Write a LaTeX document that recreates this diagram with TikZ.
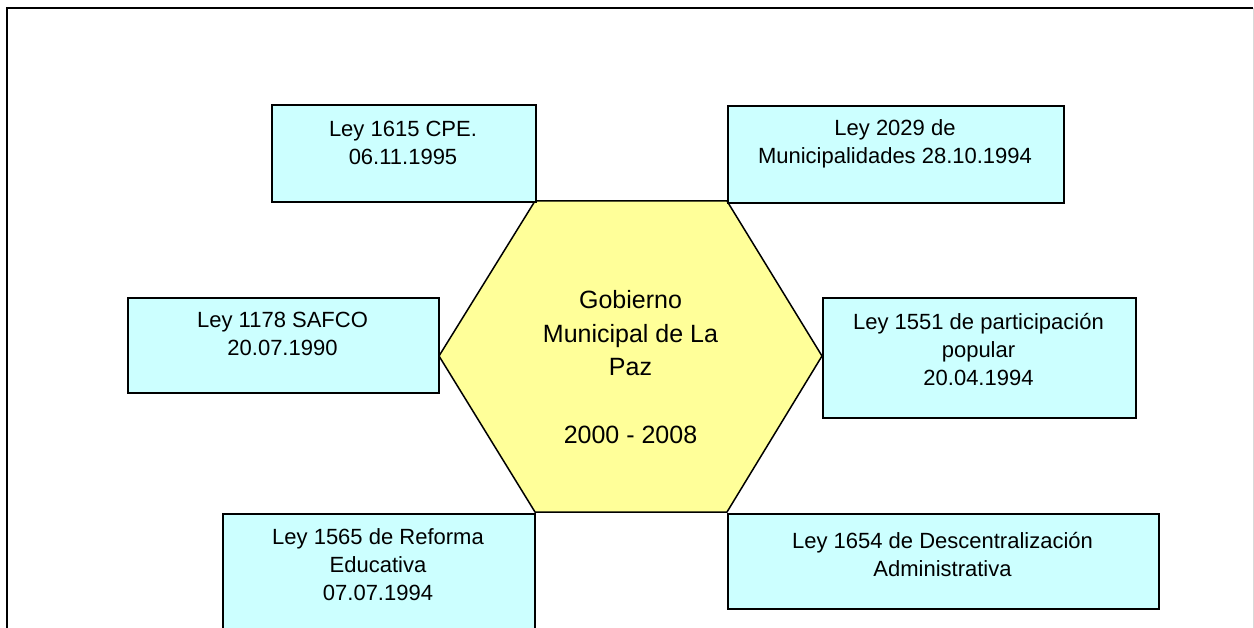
\documentclass[tikz,border=0pt]{standalone}
\usepackage{fontspec}
\setmainfont{Liberation Sans}
\definecolor{boxfill}{HTML}{CCFFFF}
\definecolor{hexfill}{HTML}{FFFF99}
\begin{document}
\begin{tikzpicture}[x=1pt,y=-1pt,
  lawbox/.style={draw=black, line width=1.8pt, fill=boxfill, inner sep=0pt, anchor=north west},
  lawtext/.style={anchor=north, inner sep=0pt, align=center, font=\fontsize{22}{28}\selectfont},
  hexshape/.style={draw=black, line width=1.5pt, fill=hexfill, line join=miter},
  hextext/.style={anchor=north, inner sep=0pt, align=center, font=\fontsize{25}{33.7}\selectfont},
  frame/.style={draw=black, line width=2pt}]
\useasboundingbox (0,0) rectangle (1254,628);
\clip (0,0) rectangle (1254,628);
\fill[white] (0,0) rectangle (1254,628);
% outer frame
\draw[frame] (6.5,640) -- (6.5,8) -- (1253,8);
\draw[black!15, line width=1pt] (1253,8) -- (1253,640);
% hexagon
\coordinate (h1) at (535,201);
\coordinate (h2) at (727,201);
\coordinate (h3) at (822,356);
\coordinate (h4) at (727,512);
\coordinate (h5) at (535,512);
\coordinate (h6) at (439,356);
\draw[hexshape] (h1) -- (h2) -- (h3) -- (h4) -- (h5) -- (h6) -- cycle;
\node[hextext] (hext) at (630.5,290) {Gobierno\\Municipal de La\\Paz\\[33.7pt]2000 - 2008};
% boxes
\node[lawbox, minimum width=264pt, minimum height=97pt] (b1) at (271,104) {};
\node[lawbox, minimum width=336pt, minimum height=97pt] (b2) at (727,105) {};
\node[lawbox, minimum width=311pt, minimum height=95pt] (b3) at (127,297) {};
\node[lawbox, minimum width=313pt, minimum height=120pt] (b4) at (822,297) {};
\node[lawbox, minimum width=312pt, minimum height=140pt] (b5) at (222,513) {};
\node[lawbox, minimum width=431pt, minimum height=95pt] (b6) at (727,513) {};
% texts
\node[lawtext] (t1) at (403,121) {Ley 1615 CPE.\\06.11.1995};
\node[lawtext] (t2) at (895,119) {Ley 2029 de\\Municipalidades 28.10.1994};
\node[lawtext] (t3) at (282.5,312) {Ley 1178 SAFCO\\20.07.1990};
\node[lawtext] (t4) at (978.5,313) {Ley 1551 de participación\\popular\\20.04.1994};
\node[lawtext] (t5) at (378,528) {Ley 1565 de Reforma\\Educativa\\07.07.1994};
\node[lawtext] (t6) at (942.5,532) {Ley 1654 de Descentralización\\Administrativa};
\end{tikzpicture}
\end{document}
